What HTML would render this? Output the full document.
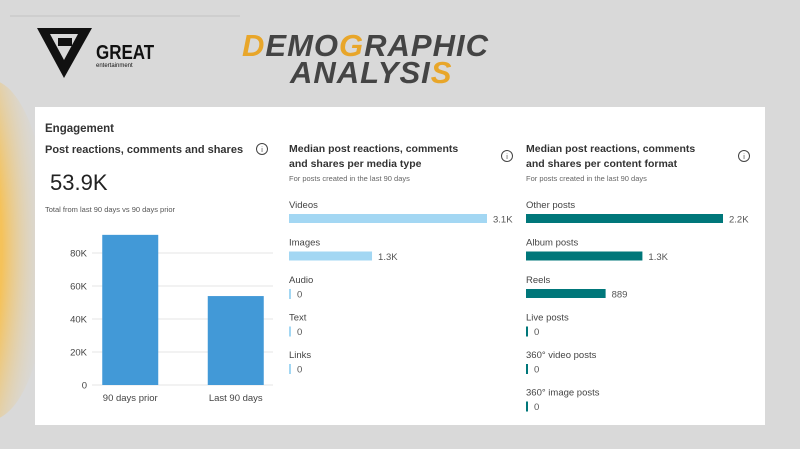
<!DOCTYPE html>
<html><head><meta charset="utf-8"><style>
html,body{margin:0;padding:0;width:800px;height:449px;overflow:hidden;background:#d8d8d8;font-family:"Liberation Sans",sans-serif}
svg{display:block}
</style></head><body>
<svg width="800" height="449" viewBox="0 0 800 449">
<defs><radialGradient id="og" cx="0" cy="0.5" r="1"><stop offset="0" stop-color="#f2b83a"/><stop offset="0.6" stop-color="#f5c25a"/><stop offset="1" stop-color="#d8d8d8" stop-opacity="0"/></radialGradient></defs>
<rect x="0" y="0" width="800" height="449" fill="#d9d9d9"/>
<ellipse cx="-10" cy="250" rx="60" ry="170" fill="url(#og)"/>
<line x1="10" y1="16" x2="240" y2="16" stroke="#c4c4c4"/>
<g>
<polygon points="37,28 92,28 64,78" fill="#111"/>
<polygon points="50,34 78,34 64,60" fill="#d9d9d9"/>
<rect x="58" y="38" width="14" height="8" fill="#111"/>
<text x="96" y="59" font-size="20" font-weight="bold" fill="#111" transform="scale(0.85,1)" transform-origin="96 59">GREAT</text>
<text x="96" y="67" font-size="6" fill="#111">entertainment</text>
</g>
<g font-family="Liberation Sans, sans-serif" font-weight="bold" font-style="italic" font-size="31">
<text x="242" y="56" fill="#444" letter-spacing="1"><tspan fill="#e8a62a">D</tspan>EMO<tspan fill="#e8a62a">G</tspan>RAPHIC</text>
<text x="290" y="83" fill="#444" letter-spacing="1">ANALYSI<tspan fill="#e8a62a">S</tspan></text>
</g>
<rect x="35" y="107" width="730" height="318" fill="#fff"/>
<text x="45" y="132" font-size="11.5" font-weight="bold" fill="#333">Engagement</text>
<text x="45" y="153" font-size="11" font-weight="bold" fill="#333">Post reactions, comments and shares</text>
<g><circle cx="262" cy="149" r="5.5" fill="none" stroke="#444"/><text x="262" y="152" font-size="7" text-anchor="middle" fill="#444">i</text></g>
<text x="50" y="190" font-size="22" fill="#222">53.9K</text>
<text x="45" y="212" font-size="7.5" fill="#555">Total from last 90 days vs 90 days prior</text>
<g id="bar-chart"></g>
<text x="289" y="152" font-size="10.5" font-weight="bold" fill="#333">Median post reactions, comments</text>
<text x="289" y="167" font-size="10.5" font-weight="bold" fill="#333">and shares per media type</text>
<text x="289" y="181" font-size="7.5" fill="#666">For posts created in the last 90 days</text>
<g><circle cx="507" cy="156" r="5.5" fill="none" stroke="#444"/><text x="507" y="159" font-size="7" text-anchor="middle" fill="#444">i</text></g>
<text x="526" y="152" font-size="10.5" font-weight="bold" fill="#333">Median post reactions, comments</text>
<text x="526" y="167" font-size="10.5" font-weight="bold" fill="#333">and shares per content format</text>
<text x="526" y="181" font-size="7.5" fill="#666">For posts created in the last 90 days</text>
<g><circle cx="744" cy="156" r="5.5" fill="none" stroke="#444"/><text x="744" y="159" font-size="7" text-anchor="middle" fill="#444">i</text></g>
<g id="media-chart"></g>
<g id="format-chart"></g>
</svg>
<script>
const periodCategories = ["90 days prior", "Last 90 days"];
const periodValues = [91000, 53900];
const yTicks = [0, 20000, 40000, 60000, 80000];
const yTickLabels = ["0", "20K", "40K", "60K", "80K"];
const mediaCategories = ["Videos", "Images", "Audio", "Text", "Links"];
const mediaValues = [3100, 1300, 0, 0, 0];
const mediaLabels = ["3.1K", "1.3K", "0", "0", "0"];
const formatCategories = ["Other posts", "Album posts", "Reels", "Live posts", "360° video posts", "360° image posts"];
const formatValues = [2200, 1300, 889, 0, 0, 0];
const formatLabels = ["2.2K", "1.3K", "889", "0", "0", "0"];

const NS = "http://www.w3.org/2000/svg";
function mk(tag, attrs, parent, txt) {
  const e = document.createElementNS(NS, tag);
  for (const k in attrs) e.setAttribute(k, attrs[k]);
  if (txt !== undefined) e.textContent = txt;
  parent.appendChild(e);
  return e;
}
const bc = document.getElementById("bar-chart");
const y0 = 385, pxPerUnit = 33 / 20000;
const yScale = v => y0 - v * pxPerUnit;
const xLeft = 92, xRight = 273, band = (xRight - xLeft) / periodCategories.length;
yTicks.forEach((t, i) => {
  const g = mk("line", {x1: xLeft, x2: xRight, y1: yScale(t), y2: yScale(t), stroke: "#e6e6e6"}, bc);
  
  
  const l = mk("text", {x: 87, y: yScale(t) + 3.5, "font-size": 9.5, fill: "#444", "text-anchor": "end"}, bc, yTickLabels[i]);
  
  
});
periodCategories.forEach((c, i) => {
  const cx = xLeft + band * (i + 0.5) + (i === 0 ? -7 : 8);
  const b = mk("rect", {x: cx - 28, y: yScale(periodValues[i]), width: 56, height: y0 - yScale(periodValues[i]), fill: "#4299d7"}, bc);
  
  
  const l = mk("text", {x: cx, y: 401, "font-size": 9.5, fill: "#444", "text-anchor": "middle"}, bc, c);
  
  
});
function hbars(id, cats, vals, labels, x0, maxW, color) {
  const g = document.getElementById(id);
  const mx = Math.max(...vals);
  cats.forEach((c, i) => {
    const ly = 208 + i * 37.5;
    const t = mk("text", {x: x0, y: ly, "font-size": 9.5, fill: "#444"}, g, c);
    
    
    const w = Math.max(2, vals[i] / mx * maxW);
    const r = mk("rect", {x: x0, y: ly + 6, width: w, height: vals[i] > 0 ? 9 : 10, fill: color}, g);
    
    
    const v = mk("text", {x: x0 + w + 6, y: ly + 14.5, "font-size": 9.5, fill: "#555"}, g, labels[i]);
    
    
  });
}
hbars("media-chart", mediaCategories, mediaValues, mediaLabels, 289, 198, "#a3d7f3");
hbars("format-chart", formatCategories, formatValues, formatLabels, 526, 197, "#00777a");
</script>
</body></html>
